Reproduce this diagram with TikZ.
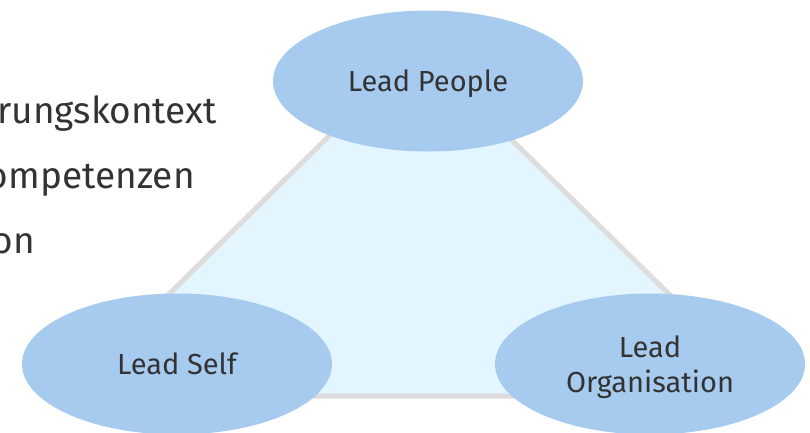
\documentclass[tikz,border=0pt]{standalone}
\usepackage{fontspec}
\setmainfont{Fira Sans}
\usepackage{xcolor}
\usetikzlibrary{shapes.geometric}
\definecolor{bubble}{HTML}{A6CBEF}
\definecolor{pale}{HTML}{E3F5FE}
\definecolor{edge}{HTML}{DDDDDD}
\definecolor{ink}{HTML}{333333}
\begin{document}
\begin{tikzpicture}[x=1pt,y=-1pt,
  lead/.style={ellipse,fill=bubble,minimum width=310pt,minimum height=141pt,inner sep=0pt,
    text depth=0pt,text=ink,align=center,font=\fontsize{29}{35}\selectfont},
  side/.style={anchor=base east,text=ink,inner sep=0pt,font=\fontsize{37}{44}\selectfont}]
\useasboundingbox (0,0) rectangle (810,432);
\node[side] (ctx) at (217,123) {rungskontext};
\node[side] (komp) at (195,188) {ompetenzen};
\node[side] (rest) at (35,253) {on};
\coordinate (apex) at (418,48);
\coordinate (baseL) at (66,396);
\coordinate (baseR) at (773,396);
\filldraw[fill=pale,draw=edge,line width=5pt] (apex) -- (baseL) -- (baseR) -- cycle;
\node[lead] (people) at (428,81) {Lead People};
\node[lead] (self) at (177,364) {Lead Self};
\node[lead] (org) at (650,364) {Lead\\Organisation};
\end{tikzpicture}
\end{document}
